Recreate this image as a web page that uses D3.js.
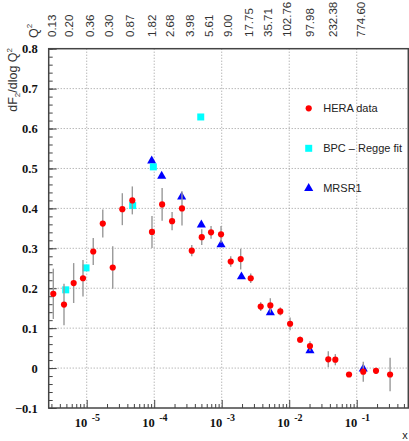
<!DOCTYPE html>
<html>
<head>
<meta charset="utf-8">
<script src="https://cdn.jsdelivr.net/npm/d3@7"></script>
<style>
  body { margin: 0; background: #fff; }
  svg { display: block; }
</style>
</head>
<body>
<svg id="chart" width="409" height="441"></svg>
<script>
// HERA data points (x, dF2/dlogQ2, error)
var heraX = [3.20e-6, 4.61e-6, 6.41e-6, 8.81e-6, 1.25e-5, 1.73e-5, 2.43e-5, 3.37e-5, 4.74e-5,
             9.27e-5, 1.31e-4, 1.84e-4, 2.58e-4, 3.60e-4, 5.06e-4, 6.95e-4, 9.77e-4,
             1.36e-3, 1.91e-3, 2.69e-3, 3.78e-3, 5.25e-3, 7.38e-3, 1.03e-2, 1.45e-2,
             2.03e-2, 3.79e-2, 4.82e-2, 7.69e-2, 0.125, 0.193, 0.312];
var heraY = [0.186, 0.159, 0.213, 0.225, 0.292, 0.362, 0.252, 0.398, 0.420,
             0.341, 0.410, 0.368, 0.400, 0.294, 0.328, 0.340, 0.335,
             0.267, 0.273, 0.225, 0.154, 0.157, 0.142, 0.111, 0.071,
             0.055, 0.022, 0.021, -0.016, -0.009, -0.007, -0.016];
var heraErr = [0.063, 0.052, 0.050, 0.046, 0.034, 0.035, 0.053, 0.040, 0.035,
               0.040, 0.041, 0.023, 0.043, 0.014, 0.020, 0.016, 0.021,
               0.013, 0.026, 0.012, 0.011, 0.018, 0.010, 0.016, 0.008,
               0.012, 0.020, 0.014, 0.006, 0.025, 0.008, 0.042];

// BPC - Regge fit
var bpcX = [4.89e-6, 9.77e-6, 4.80e-5, 9.71e-5, 4.89e-4];
var bpcY = [0.196, 0.251, 0.407, 0.504, 0.629];

// MRSR1
var mrsX = [9.18e-5, 1.29e-4, 2.55e-4, 4.99e-4, 9.77e-4, 1.96e-3, 5.25e-3, 2.03e-2, 0.125];
var mrsY = [0.519, 0.481, 0.429, 0.359, 0.309, 0.229, 0.139, 0.044, -0.002];

// Q2 labels along the top
var q2Labels = ["0.13", "0.20", "0.36", "0.30", "0.87", "1.82", "2.68", "3.98", "5.61",
                "9.00", "17.75", "35.71", "102.76", "97.98", "232.38", "774.60"];
var q2X = [3.03e-6, 5.47e-6, 1.12e-5, 2.14e-5, 4.38e-5, 9.27e-5, 1.71e-4, 3.39e-4, 6.48e-4,
           1.24e-3, 2.54e-3, 4.85e-3, 9.27e-3, 2.03e-2, 4.45e-2, 0.116];

var legendNames = ["HERA data", "BPC \u2013 Regge fit", "MRSR1"];

var svg = d3.select("#chart"),
    pLeft = 48.7, pRight = 408.3, pTop = 48.7, pBottom = 408;

var x = d3.scaleLog().domain([Math.pow(10, -5.563), Math.pow(10, -0.236)]).range([pLeft, pRight]),
    y = d3.scaleLinear().domain([-0.1, 0.8]).range([pBottom, pTop]);

var sans = "'Liberation Sans', Arial, sans-serif",
    serif = "'Liberation Serif', 'Times New Roman', serif";

// grid
var decades = [1e-5, 1e-4, 1e-3, 1e-2, 1e-1];
var majorY = d3.range(-1, 9).map(function (i) { return i / 10; });

svg.append("g").selectAll("line").data(decades).join("line")
    .attr("x1", function (d) { return x(d); }).attr("x2", function (d) { return x(d); })
    .attr("y1", pTop).attr("y2", pBottom)
    .attr("stroke", "#999").attr("stroke-width", 1).attr("stroke-dasharray", "1,2");
svg.append("g").selectAll("line").data(majorY.slice(1, -1)).join("line")
    .attr("x1", pLeft).attr("x2", pRight)
    .attr("y1", function (d) { return y(d); }).attr("y2", function (d) { return y(d); })
    .attr("stroke", "#999").attr("stroke-width", 1).attr("stroke-dasharray", "1,2");

// y axis: labels + major ticks inward
var yAxis = svg.append("g").attr("transform", "translate(" + pLeft + ",0)")
    .call(d3.axisLeft(y).tickValues(majorY).tickSizeInner(-8).tickSizeOuter(0).tickPadding(11)
        .tickFormat(function (d) { return Math.abs(d) < 1e-9 ? "0" : d3.format(".1f")(d); }));
yAxis.select(".domain").remove();
yAxis.selectAll("line").attr("stroke", "#444").attr("stroke-width", 1);
yAxis.selectAll("text").attr("font-family", serif).attr("font-weight", "bold")
    .attr("font-size", 12.5).attr("fill", "#111");

var yMinor = svg.append("g").attr("transform", "translate(" + pLeft + ",0)")
    .call(d3.axisLeft(y).tickValues(d3.range(-5, 41).map(function (i) { return i / 50; }))
        .tickSizeInner(-4).tickSizeOuter(0).tickFormat(""));
yMinor.select(".domain").remove();
yMinor.selectAll("line").attr("stroke", "#444");

// x axis minor/major ticks inward
var xAxis = svg.append("g").attr("transform", "translate(0," + pBottom + ")")
    .call(d3.axisBottom(x).tickValues(x.ticks()).tickSizeInner(-4).tickSizeOuter(0).tickFormat(""));
xAxis.select(".domain").remove();
xAxis.selectAll("line").attr("stroke", "#444")
    .attr("y2", function (d) { return decades.indexOf(d) >= 0 ? -8 : -4; });

// x labels 10^n
var xl = svg.append("g").selectAll("g").data(decades).join("g");
xl.append("text")
    .attr("x", function (d) { return x(d) + 0.5; }).attr("y", 427)
    .attr("text-anchor", "end").attr("font-family", serif).attr("font-weight", "bold")
    .attr("font-size", 12.5).attr("fill", "#111").text("10");
xl.append("text")
    .attr("x", function (d) { return x(d) + 5; }).attr("y", 421)
    .attr("font-family", serif).attr("font-weight", "bold")
    .attr("font-size", 10).attr("fill", "#111")
    .text(function (d) { return "-" + Math.round(-Math.log10(d)); });

svg.append("text").attr("x", 405).attr("y", 439).attr("text-anchor", "middle")
    .attr("font-family", sans).attr("font-size", 11).attr("fill", "#222").text("x");

// frame
svg.append("rect").attr("x", pLeft).attr("y", pTop)
    .attr("width", pRight - pLeft).attr("height", pBottom - pTop)
    .attr("fill", "none").attr("stroke", "#444").attr("stroke-width", 1.5);

// top Q2 labels
svg.append("g").selectAll("text").data(q2Labels).join("text")
    .attr("transform", function (d, i) { return "translate(" + x(q2X[i]) + ",37) rotate(-90)"; })
    .attr("dy", "0.35em")
    .attr("font-family", sans).attr("font-size", 11.5).attr("fill", "#333")
    .text(function (d) { return d; });

var q2t = svg.append("text").attr("transform", "translate(34,38) rotate(-90)")
    .attr("dy", "0.35em").attr("font-family", sans).attr("font-size", 12.5).attr("fill", "#333");
q2t.append("tspan").text("Q");
q2t.append("tspan").attr("font-size", 8).attr("dy", "-0.8em").text("2");

// y title
var yt = svg.append("text").attr("transform", "translate(13,48) rotate(-90)")
    .attr("text-anchor", "end").attr("dy", "0.35em")
    .attr("font-family", sans).attr("font-size", 12.5).attr("fill", "#333");
yt.append("tspan").text("dF");
yt.append("tspan").attr("font-size", 8).attr("dy", 3).text("2");
yt.append("tspan").attr("dy", -3).text("/dlog Q");
yt.append("tspan").attr("font-size", 8).attr("dy", -5).text("2");

// markers
var tri = d3.symbol().type(d3.symbolTriangle).size(36),
    sq = d3.symbol().type(d3.symbolSquare).size(49),
    circ = d3.symbol().type(d3.symbolCircle).size(30);

svg.append("g").selectAll("path").data(mrsX).join("path")
    .attr("transform", function (d, i) { return "translate(" + x(d) + "," + y(mrsY[i]) + ")"; })
    .attr("d", tri).attr("fill", "#0000ff");

svg.append("g").selectAll("path").data(bpcX).join("path")
    .attr("transform", function (d, i) { return "translate(" + x(d) + "," + y(bpcY[i]) + ")"; })
    .attr("d", sq).attr("fill", "#00ffff");

svg.append("g").selectAll("line").data(heraX).join("line")
    .attr("x1", function (d) { return x(d); }).attr("x2", function (d) { return x(d); })
    .attr("y1", function (d, i) { return y(heraY[i] + heraErr[i]); })
    .attr("y2", function (d, i) { return y(heraY[i] - heraErr[i]); })
    .attr("stroke", "#999").attr("stroke-width", 1.4);

svg.append("g").selectAll("path").data(heraX).join("path")
    .attr("transform", function (d, i) { return "translate(" + x(d) + "," + y(heraY[i]) + ")"; })
    .attr("d", circ).attr("fill", "#ff0000");

// legend
var lg = svg.append("g").selectAll("g").data(legendNames).join("g")
    .attr("transform", function (d, i) { return "translate(308.7," + (108.3 + i * 40) + ")"; });
lg.append("path").attr("d", function (d, i) { return [circ, sq, tri][i](); })
    .attr("fill", function (d, i) { return ["#ff0000", "#00ffff", "#0000ff"][i]; });
lg.append("text").attr("x", 14.5).attr("dy", "0.35em")
    .attr("font-family", sans).attr("font-size", 11).attr("fill", "#222")
    .text(function (d) { return d; });
</script>
</body>
</html>
